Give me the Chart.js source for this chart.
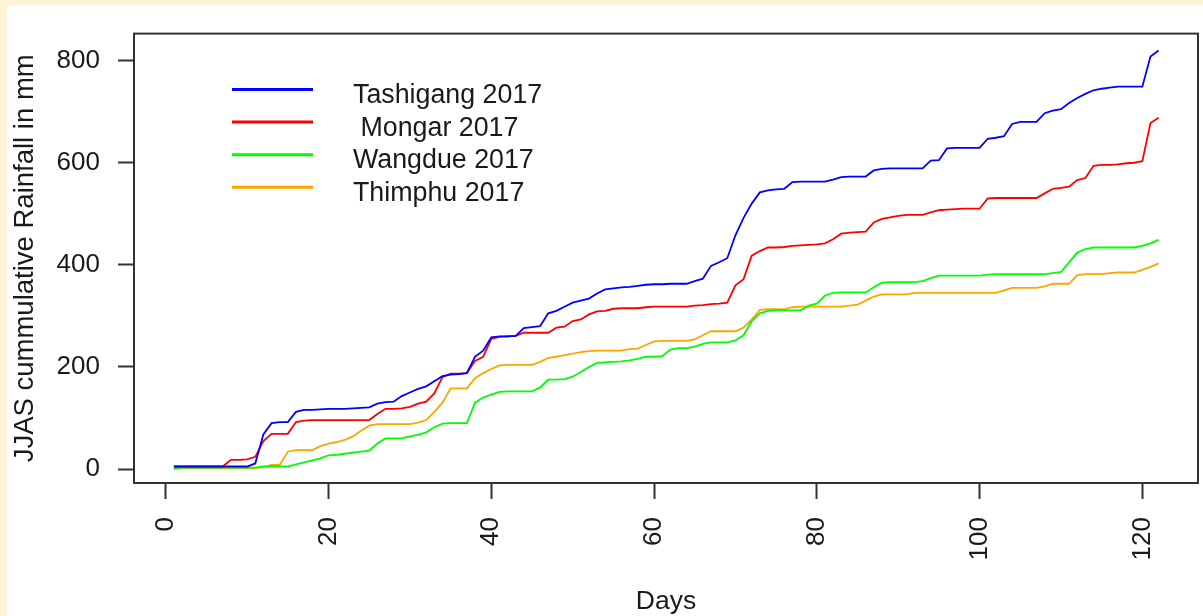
<!DOCTYPE html>
<html>
<head>
<meta charset="utf-8">
<script src="https://cdn.jsdelivr.net/npm/chart.js@4"></script>
<style>
  html, body { margin: 0; padding: 0; background: #ffffff; }
  canvas { display: block; }
</style>
</head>
<body>
<canvas id="c" width="1203" height="616"></canvas>
<script>
// ---- data ----
const days = [1,2,3,4,5,6,7,8,9,10,11,12,13,14,15,16,17,18,19,20,21,22,23,24,25,26,27,28,29,30,
  31,32,33,34,35,36,37,38,39,40,41,42,43,44,45,46,47,48,49,50,51,52,53,54,55,56,57,58,59,60,
  61,62,63,64,65,66,67,68,69,70,71,72,73,74,75,76,77,78,79,80,81,82,83,84,85,86,87,88,89,90,
  91,92,93,94,95,96,97,98,99,100,101,102,103,104,105,106,107,108,109,110,111,112,113,114,115,116,117,118,119,120,121,122];

const seriesNames = ["Tashigang 2017", " Mongar 2017", "Wangdue 2017", "Thimphu 2017"];

const tashigang = [5,5,5,5,5,5,5,5,5,5, 11,68,90,92,92,112,116,116,117,118,
  118,118,119,120,121,128,131,132,143,150, 157,162,172,182,185,186,188,220,232,258,
  260,260,261,276,278,280,305,310,318,326, 330,334,344,352,354,356,357,359,361,362,
  362,363,363,363,368,373,398,405,413,458, 492,520,542,546,548,549,562,563,563,563,
  563,567,572,573,573,573,585,588,589,589, 589,589,589,604,605,628,629,629,629,629,
  647,649,652,676,680,680,680,697,702,705, 717,727,735,742,745,747,749,749,749,749,
  808,820];

const mongar = [5,5,5,5,5,5,5,18,18,19, 24,55,69,69,69,92,95,96,96,96,
  96,96,96,96,96,108,118,118,119,122, 128,132,148,180,187,187,188,212,220,255,
  259,260,261,267,267,267,267,277,279,290, 293,303,309,310,314,315,315,315,317,318,
  318,318,318,318,320,321,323,324,326,360, 372,418,427,434,434,435,437,438,439,440,
  442,450,461,463,464,465,483,490,493,496, 498,498,498,503,507,508,509,510,510,510,
  530,531,531,531,531,531,531,540,549,551, 553,566,570,594,596,596,597,599,600,603,
  678,688];

const wangdue = [2,3,3,3,3,3,3,3,3,3, 3,5,5,5,5,9,13,17,21,27,
  28,30,32,34,36,50,60,60,60,64, 67,72,82,89,90,90,90,130,140,146,
  151,152,152,152,152,160,175,175,176,181, 190,200,208,209,210,211,213,216,220,220,
  221,234,237,237,240,245,248,248,248,252, 262,290,305,310,311,311,311,311,320,324,
  340,345,346,346,346,346,356,365,366,366, 366,366,368,374,379,379,379,379,379,379,
  381,382,382,382,382,382,382,382,384,386, 405,424,431,434,434,434,434,434,434,437,
  442,449];

const thimphu = [0,2,2,2,2,2,2,2,2,2, 2,4,8,8,34,37,37,37,45,50,
  53,57,64,75,85,88,88,88,88,88, 91,96,112,130,158,158,158,178,188,196,
  203,204,204,204,204,210,218,220,223,226, 229,231,232,232,232,232,235,236,243,250,
  251,251,251,251,254,262,270,270,270,270, 277,293,312,313,313,313,317,318,318,318,
  318,318,318,320,322,330,338,342,342,342, 342,345,345,345,345,345,345,345,345,345,
  345,345,350,355,355,355,355,358,363,363, 363,380,382,382,382,384,385,385,385,390,
  396,403];

const seriesColors = ["#0000ff", "#ff0000", "#00ff00", "#ffa500"];
const xTicks = [0, 20, 40, 60, 80, 100, 120];
const yTicks = [0, 200, 400, 600, 800];
const xTitle = "Days";
const yTitle = "JJAS cummulative Rainfall in mm";

// ---- chart ----
const FONT = "'Liberation Sans', Arial, Helvetica, sans-serif";
const INK = "#1a1a1a";
const FRAME = "#333333";

function pts(vals) { return days.map((d, i) => ({ x: d, y: vals[i] })); }
const allValues = [tashigang, mongar, wangdue, thimphu];

const backgroundPlugin = {
  id: "bg",
  beforeDraw(chart) {
    const ctx = chart.ctx;
    ctx.save();
    ctx.fillStyle = "#ffffff";
    ctx.fillRect(0, 0, chart.width, chart.height);
    ctx.fillStyle = "#fef3d6";
    ctx.fillRect(0, 0, 7, chart.height);
    ctx.fillRect(0, 0, chart.width, 5);
    ctx.restore();
  }
};

const framePlugin = {
  id: "frame",
  afterDraw(chart) {
    const { ctx, chartArea: a } = chart;
    ctx.save();
    ctx.strokeStyle = FRAME;
    ctx.lineWidth = 2;
    ctx.strokeRect(a.left, a.top, a.right - a.left, a.bottom - a.top);
    ctx.restore();
  }
};

const insetLegendPlugin = {
  id: "insetLegend",
  afterDraw(chart) {
    const ctx = chart.ctx;
    ctx.save();
    chart.data.datasets.forEach((ds, i) => {
      const y = 89.5 + i * 32.6;
      ctx.strokeStyle = ds.borderColor;
      ctx.lineWidth = 3;
      ctx.beginPath();
      ctx.moveTo(232, y);
      ctx.lineTo(313, y);
      ctx.stroke();
      ctx.fillStyle = INK;
      ctx.font = "26.8px " + FONT;
      ctx.textAlign = "left";
      ctx.textBaseline = "alphabetic";
      ctx.fillText(ds.label, 353, y + 13.5);
    });
    ctx.restore();
  }
};

new Chart(document.getElementById("c"), {
  type: "line",
  data: {
    datasets: seriesNames.map((name, i) => ({
      label: name,
      data: pts(allValues[i]),
      borderColor: seriesColors[i],
      backgroundColor: seriesColors[i],
      borderWidth: 1.8,
      pointRadius: 0,
      tension: 0,
      fill: false
    }))
  },
  options: {
    responsive: false,
    devicePixelRatio: 1,
    animation: false,
    layout: { padding: { top: 31, right: 5, bottom: 0, left: 0 } },
    plugins: { legend: { display: false }, tooltip: { enabled: false } },
    scales: {
      x: {
        type: "linear",
        min: -3.9,
        max: 126.84,
        afterBuildTicks(s) { s.ticks = xTicks.map(v => ({ value: v })); },
        afterFit(s) { s.height = 133; },
        grid: { display: true, drawOnChartArea: false, drawTicks: true, tickLength: 16, tickWidth: 2, tickColor: FRAME },
        border: { display: false },
        ticks: { autoSkip: false, maxRotation: 90, minRotation: 90, padding: 18, color: INK, font: { family: FONT, size: 26 } },
        title: { display: true, text: xTitle, color: INK, font: { family: FONT, size: 26.5, lineHeight: 1 }, padding: { top: 0, bottom: 1.5 } }
      },
      y: {
        type: "linear",
        min: -27.3,
        max: 853,
        afterBuildTicks(s) { s.ticks = yTicks.map(v => ({ value: v })); },
        afterFit(s) { s.width = 134; },
        grid: { display: true, drawOnChartArea: false, drawTicks: true, tickLength: 16, tickWidth: 2, tickColor: FRAME },
        border: { display: false },
        ticks: { padding: 18, color: INK, font: { family: FONT, size: 26 } },
        title: { display: true, text: yTitle, color: INK, font: { family: FONT, size: 27.5, lineHeight: 1.2 }, padding: { top: 8.5, bottom: 0 } }
      }
    }
  },
  plugins: [backgroundPlugin, framePlugin, insetLegendPlugin]
});
</script>
</body>
</html>
